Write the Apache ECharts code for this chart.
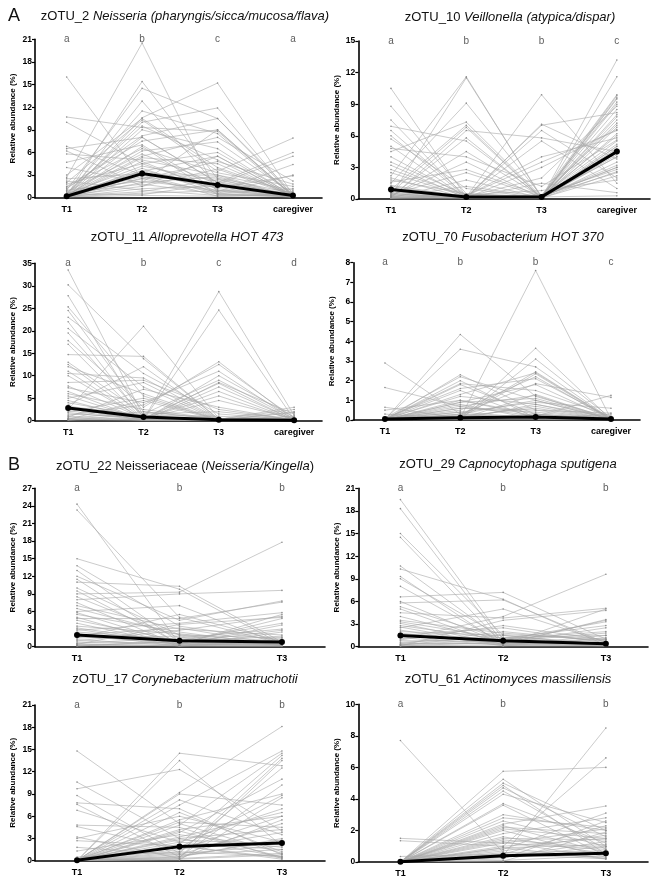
<!DOCTYPE html>
<html><head><meta charset="utf-8">
<script src="https://cdn.jsdelivr.net/npm/echarts@6/dist/echarts.min.js"></script>
<style>html,body{margin:0;padding:0;background:#fff}#c{width:653px;height:880px}</style>
</head><body><div id="c"></div>
<script>
// ---------- DATA ----------
const cats4 = ['T1','T2','T3','caregiver'];
const cats3 = ['T1','T2','T3'];

const p1Letters = ['a','b','c','a'];
const p1Median = [0.2, 3.2, 1.7, 0.3];
const p1Lines = [
[16.0,2.5,0.8,0.1],[10.7,9.3,8.8,0.3],[10.0,4.5,1.2,0.2],[6.8,3.0,0.5,0.1],[6.5,8.0,2.0,0.4],
[6.2,1.5,5.5,0.2],[5.8,5.0,3.0,1.0],[4.7,7.0,1.0,0.1],[4.0,2.0,9.0,0.3],[3.0,10.5,4.0,0.5],
[2.7,20.5,0.5,0.2],[0.3,15.4,2.5,0.1],[1.0,14.5,10.5,0.6],[0.2,12.8,1.5,0.3],[0.5,11.5,8.5,0.2],
[0.1,10.6,15.2,0.4],[2.0,10.3,3.5,7.9],[0.4,10.0,11.9,0.2],[0.6,9.5,5.0,0.1],[1.2,8.2,10.5,0.3],
[0.1,8.0,2.0,6.0],[1.5,7.5,9.0,0.2],[0.2,6.8,0.4,0.1],[0.3,6.2,7.4,0.5],[0.8,5.8,1.8,5.5],
[0.1,5.3,4.5,0.2],[0.2,4.8,0.8,4.4],[1.8,4.5,6.0,0.3],[0.5,4.2,2.2,0.1],[0.1,3.9,0.6,3.0],
[0.3,3.5,5.5,0.2],[2.5,3.2,1.3,2.9],[0.1,3.0,3.0,0.1],[0.4,2.8,0.2,0.4],[0.2,2.5,4.8,1.8],
[1.0,2.2,1.0,0.2],[0.1,2.0,2.8,0.1],[0.6,1.8,0.5,1.2],[0.3,1.5,3.8,0.3],[0.1,1.2,1.5,0.1],
[2.2,1.0,0.3,0.5],[0.2,0.8,2.4,0.2],[0.1,0.6,0.9,0.8],[0.5,0.4,1.9,0.1],[0.1,0.3,0.2,0.3],
[1.4,6.5,3.3,1.5],[0.2,9.0,6.5,0.2],[0.3,5.5,8.0,2.2],[0.1,2.6,2.6,0.6],[0.4,3.6,1.6,0.2]
];

const p2Letters = ['a','b','b','c'];
const p2Median = [0.9, 0.2, 0.2, 4.5];
const p2Lines = [
[10.5,0.2,0.1,5.0],[8.8,0.5,0.2,9.5],[7.5,0.1,0.3,6.0],[6.9,5.5,0.2,3.0],[6.5,0.3,0.1,8.0],
[6.0,0.2,6.5,2.0],[5.7,1.0,0.1,13.2],[5.0,0.1,0.4,7.0],[4.5,7.3,0.2,4.0],[4.0,0.2,0.1,9.8],
[3.5,0.4,0.3,5.5],[3.2,0.1,0.1,11.6],[2.8,0.3,3.5,6.5],[2.5,0.2,0.2,9.2],[2.2,11.6,0.1,3.5],
[2.0,0.1,0.2,8.5],[1.8,0.5,0.1,4.8],[1.5,9.1,0.3,2.5],[1.3,0.2,9.9,1.5],[1.2,0.1,0.1,7.5],
[1.0,0.3,0.2,5.2],[0.9,7.0,0.1,6.2],[0.8,0.1,7.1,3.8],[0.7,0.2,0.2,9.0],[0.6,6.8,0.1,4.2],
[0.5,0.1,0.4,2.8],[0.4,0.2,7.0,8.2],[0.3,11.5,0.2,0.3],[0.2,0.1,0.1,6.8],[0.1,6.5,5.8,4.5],
[0.3,0.2,0.2,3.2],[0.2,5.8,0.1,7.8],[0.1,0.3,4.0,5.8],[0.5,0.1,0.1,2.2],[0.2,4.5,0.2,9.6],
[0.1,0.2,5.5,1.0],[0.3,3.5,0.1,4.0],[0.1,0.1,3.0,6.6],[0.4,2.5,0.2,3.0],[0.2,0.2,2.0,8.8],
[0.1,1.8,0.1,5.0],[0.6,0.1,1.5,0.6],[0.2,1.2,0.2,7.2],[0.1,0.4,0.8,1.8],[1.6,2.8,0.3,9.9],
[4.8,4.0,1.2,5.6],[0.3,0.2,0.1,4.4],[0.1,0.1,0.1,2.6]
];

const p3Letters = ['a','b','c','d'];
const p3Median = [2.8, 0.8, 0.2, 0.1];
const p3Lines = [
[33.5,1.0,0.2,0.1],[30.2,13.8,0.3,0.2],[27.8,0.5,8.3,0.1],[25.3,5.5,0.1,0.5],[24.5,2.0,0.4,0.1],
[23.0,10.5,1.5,0.2],[22.0,0.3,0.2,1.0],[20.5,7.5,0.1,0.1],[19.5,0.8,0.5,0.3],[17.8,3.0,13.1,0.2],
[17.0,0.2,0.2,0.1],[14.7,14.3,0.3,2.5],[13.0,1.5,9.0,0.4],[12.5,0.4,0.1,0.1],[12.0,6.0,0.2,0.2],
[11.0,0.2,8.5,1.5],[10.5,9.5,0.3,0.1],[7.7,0.5,0.2,0.3],[7.3,4.0,11.0,0.1],[6.5,0.2,0.1,2.0],
[6.0,2.5,0.4,0.2],[5.5,0.3,6.5,0.1],[5.0,8.5,0.2,0.5],[4.5,0.2,0.1,0.2],[4.0,1.0,0.3,3.0],
[3.5,12.0,0.2,0.1],[3.0,0.4,4.5,0.4],[2.8,0.1,0.1,0.1],[2.5,21.0,0.5,0.2],[2.2,0.3,28.7,1.2],
[2.0,5.0,0.2,0.1],[1.8,0.2,24.6,0.3],[1.5,0.8,0.1,0.1],[1.2,3.5,12.5,0.6],[1.0,0.1,0.2,0.2],
[0.8,7.0,3.0,0.1],[0.6,0.2,10.0,0.8],[0.5,2.0,0.3,0.1],[0.4,0.1,7.5,0.2],[0.3,4.5,0.1,1.8],
[0.2,0.5,5.5,0.1],[0.1,1.5,2.0,0.3],[0.2,0.2,0.1,0.1],[8.5,9.0,2.5,0.2],[10.0,0.3,0.2,0.4],
[3.2,1.2,1.0,0.1]
];

const p4Letters = ['a','b','b','c'];
const p4Median = [0.05, 0.12, 0.15, 0.05];
const p4Lines = [
[2.9,0.3,0.1,0.05],[1.65,0.7,0.2,0.02],[0.65,0.1,0.05,0.1],[0.5,1.0,0.3,0.05],[0.3,0.05,0.8,0.02],
[0.02,4.35,1.2,0.1],[0.05,3.6,2.7,0.05],[0.01,2.3,0.5,0.02],[0.1,2.2,1.0,0.03],[0.02,2.0,0.1,0.05],
[0.05,1.85,1.5,0.2],[0.01,1.8,0.3,0.02],[0.03,1.5,0.05,0.01],[0.02,1.3,2.4,0.05],[0.05,1.2,0.8,0.1],
[0.01,1.0,0.2,0.02],[0.02,0.9,1.8,0.05],[0.01,0.8,0.05,0.3],[0.03,0.7,1.25,0.01],[0.02,0.6,0.4,0.05],
[0.01,0.5,2.2,0.02],[0.05,0.4,0.1,0.1],[0.02,0.3,1.0,0.05],[0.01,0.2,0.6,0.02],[0.03,0.15,0.2,1.25],
[0.02,0.1,7.6,0.05],[0.01,0.08,3.65,0.03],[0.05,0.05,3.1,0.1],[0.02,0.2,2.45,0.05],[0.01,0.1,2.35,0.02],
[0.02,0.3,1.85,1.15],[0.01,0.05,1.3,0.05],[0.03,0.4,0.9,0.6],[0.02,0.12,0.7,0.02],[0.01,0.6,0.5,0.35],
[0.02,0.08,0.3,0.05],[0.05,0.25,0.15,0.02],[0.01,0.02,0.05,0.01],[0.1,1.6,2.1,0.1],[0.02,0.9,1.1,0.05]
];

const p5Letters = ['a','b','b'];
const p5Median = [2.0, 1.0, 0.8];
const p5Lines = [
[24.3,0.5,0.2],[23.3,5.0,0.5],[15.0,9.8,0.4],[13.8,3.5,1.0],[13.0,0.8,0.3],[12.0,4.5,7.8],
[11.5,0.3,0.5],[11.0,10.3,0.8],[10.0,2.0,0.2],[9.5,0.5,1.5],[9.0,9.3,17.8],[8.5,1.5,0.3],
[8.0,9.0,9.6],[7.5,0.2,0.6],[7.0,3.0,2.0],[6.0,7.0,0.4],[5.8,0.4,5.5],[5.5,2.5,0.2],
[5.0,0.1,1.0],[4.8,4.8,7.6],[4.5,1.0,0.3],[4.0,0.3,3.7],[3.5,2.2,0.5],[3.0,0.2,0.1],
[2.8,4.0,5.8],[2.5,1.2,0.8],[2.2,0.1,2.5],[2.0,3.2,0.3],[1.8,0.5,4.8],[1.5,1.8,0.2],
[1.2,0.2,1.2],[1.0,2.8,5.2],[0.8,0.6,0.4],[0.6,1.5,3.0],[0.5,0.1,0.1],[0.4,3.8,5.0],
[0.3,0.8,1.8],[0.2,0.3,0.6],[0.1,1.0,4.0],[0.3,0.2,0.2],[6.5,2.0,1.5],[3.2,0.7,2.8],[1.5,5.5,0.9]
];

const p6Letters = ['a','b','b'];
const p6Median = [1.5, 0.8, 0.4];
const p6Lines = [
[19.5,1.0,0.3],[18.3,0.5,0.5],[15.0,1.5,0.2],[14.5,0.3,1.0],[10.7,0.8,0.4],[10.3,6.3,0.2],
[9.3,0.2,0.6],[9.0,1.2,1.5],[8.0,0.5,0.1],[6.6,7.2,1.0],[6.0,0.4,0.3],[5.8,6.2,0.5],
[5.3,1.0,2.0],[5.0,0.2,0.2],[4.5,3.8,5.1],[4.0,0.6,0.4],[3.5,1.8,0.8],[3.1,0.3,3.6],
[2.8,0.9,0.2],[2.5,5.0,0.6],[2.2,0.1,1.2],[2.0,1.5,0.3],[1.8,0.4,3.5],[1.5,2.5,0.5],
[1.2,0.2,0.2],[1.0,4.0,9.6],[0.8,0.7,1.8],[0.6,1.2,0.4],[0.5,0.3,5.0],[0.4,2.0,0.7],
[0.3,0.5,2.5],[0.2,0.1,0.1],[0.1,3.5,4.8],[0.3,0.9,3.3],[0.2,1.6,1.0],[0.1,0.6,0.3],
[3.3,1.1,2.8],[2.6,0.2,1.5],[0.9,2.8,0.9]
];

const p7Letters = ['a','b','b'];
const p7Median = [0.05, 1.9, 2.4];
const p7Lines = [
[14.8,5.0,1.0],[10.6,3.0,0.5],[9.7,12.3,4.0],[8.8,1.0,2.0],[7.8,7.0,0.8],[7.6,0.5,3.0],
[6.8,2.5,1.5],[4.8,4.5,0.3],[4.6,1.5,6.0],[3.2,0.3,1.0],[3.0,6.0,2.5],[2.7,2.0,0.4],
[1.8,0.8,5.0],[1.3,3.5,1.8],[0.5,1.2,0.6],[0.0,14.5,12.8],[0.0,13.5,2.0],[0.0,9.2,18.1],
[0.0,9.0,7.5],[0.1,8.2,3.5],[0.0,7.5,14.8],[0.0,6.5,1.2],[0.0,5.5,9.0],[0.1,5.2,4.5],
[0.0,4.8,14.5],[0.0,4.0,0.5],[0.0,3.8,11.0],[0.0,3.2,6.5],[0.1,2.8,2.2],[0.0,2.2,14.2],
[0.0,1.8,8.8],[0.0,1.5,3.8],[0.0,1.0,13.8],[0.0,0.8,1.5],[0.0,0.5,10.2],[0.0,0.3,5.5],
[0.0,0.2,0.8],[0.0,0.1,8.5],[0.0,0.4,13.5],[0.0,2.5,7.0],[0.0,1.2,12.5],[0.0,3.0,4.2],
[0.0,0.6,2.8],[0.0,4.2,6.0],[0.0,2.0,0.2]
];

const p8Letters = ['a','b','b'];
const p8Median = [0.02, 0.4, 0.55];
const p8Lines = [
[7.7,0.6,0.3],[1.5,1.2,0.8],[1.35,1.0,1.5],[0.35,0.5,0.2],[0.0,5.75,6.0],[0.0,5.25,1.0],
[0.0,5.0,2.0],[0.0,4.85,0.5],[0.0,4.7,1.6],[0.0,4.5,0.8],[0.0,4.3,2.5],[0.0,3.7,1.2],
[0.0,3.6,0.4],[0.0,2.8,2.2],[0.0,2.6,1.0],[0.0,2.4,3.55],[0.0,2.3,0.6],[0.0,2.2,1.8],
[0.0,2.0,0.3],[0.0,1.8,2.8],[0.0,1.5,1.4],[0.0,1.3,0.2],[0.0,1.2,2.1],[0.0,1.0,6.6],
[0.0,0.9,1.1],[0.0,0.8,3.1],[0.0,0.6,0.7],[0.0,0.5,2.3],[0.0,0.4,8.5],[0.0,0.3,1.3],
[0.0,0.2,2.6],[0.0,0.1,0.4],[0.0,0.05,1.9],[0.0,1.4,0.9],[0.0,0.7,1.7],[0.0,3.0,2.0],
[0.0,1.6,0.5],[0.0,0.3,1.0],[0.0,2.1,1.5],[0.0,0.9,0.2]
];

const titleParts = [
  [['n','zOTU_2 '],['i','Neisseria (pharyngis/sicca/mucosa/flava)']],
  [['n','zOTU_10 '],['i','Veillonella (atypica/dispar)']],
  [['n','zOTU_11 '],['i','Alloprevotella HOT 473']],
  [['n','zOTU_70 '],['i','Fusobacterium HOT 370']],
  [['n','zOTU_22 Neisseriaceae ('],['i','Neisseria/Kingella'],['n',')']],
  [['n','zOTU_29 '],['i','Capnocytophaga sputigena']],
  [['n','zOTU_17 '],['i','Corynebacterium matruchotii']],
  [['n','zOTU_61 '],['i','Actinomyces massiliensis']]
];
const yMax = [21, 15, 35, 8, 27, 21, 21, 10];
const yStep = [3, 3, 5, 1, 3, 3, 3, 2];
const yAxisName = 'Relative abundance (%)';

// ---------- LAYOUT (styles) ----------
const panels = [
  {lines:p1Lines, med:p1Median, let:p1Letters, cats:cats4, L:35,  T:39.3, R:322, B:197.7, xmin:-0.42, xmax:3.385, tx:180, ty:5},
  {lines:p2Lines, med:p2Median, let:p2Letters, cats:cats4, L:358.3,T:41,  R:650, B:199,   xmin:-0.434,xmax:3.44, tx:505, ty:6},
  {lines:p3Lines, med:p3Median, let:p3Letters, cats:cats4, L:35,  T:263.3,R:322, B:420.7, xmin:-0.44, xmax:3.37, tx:182, ty:226},
  {lines:p4Lines, med:p4Median, let:p4Letters, cats:cats4, L:353.3,T:262.7,R:640,B:420,   xmin:-0.42, xmax:3.385,tx:498, ty:226},
  {lines:p5Lines, med:p5Median, let:p5Letters, cats:cats3, L:35,  T:488.3,R:325, B:646.7, xmin:-0.41, xmax:2.42, tx:180, ty:455},
  {lines:p6Lines, med:p6Median, let:p6Letters, cats:cats3, L:358.3,T:488.3,R:648,B:646.7, xmin:-0.41, xmax:2.41, tx:503, ty:453},
  {lines:p7Lines, med:p7Median, let:p7Letters, cats:cats3, L:35,  T:705,  R:325, B:860.7, xmin:-0.41, xmax:2.42, tx:180, ty:668},
  {lines:p8Lines, med:p8Median, let:p8Letters, cats:cats3, L:358.3,T:704.3,R:648,B:862,   xmin:-0.41, xmax:2.41, tx:503, ty:668}
];

const FONT = 'Liberation Sans, Arial, Helvetica, sans-serif';
const grid = [], xAxis = [], yAxis = [], series = [], title = [];

panels.forEach((p, k) => {
  grid.push({left:p.L, top:p.T, width:p.R-p.L, height:p.B-p.T, containLabel:false});
  const idx = p.cats.map((c,i)=>i);
  xAxis.push({
    gridIndex:k, type:'value', min:p.xmin, max:p.xmax,
    axisLine:{show:true, onZero:false, lineStyle:{color:'#000', width:1.6}},
    axisTick:{show:false},
    splitLine:{show:false},
    axisLabel:{customValues:idx, formatter:(v)=>p.cats[Math.round(v)], color:'#000', fontWeight:'bold', fontSize:9, fontFamily:FONT, margin:7}
  });
  yAxis.push({
    gridIndex:k, type:'value', min:0, max:yMax[k], interval:yStep[k],
    name:yAxisName, nameLocation:'middle', nameGap:18,
    nameTextStyle:{color:'#000', fontWeight:'bold', fontSize:8, fontFamily:FONT},
    axisLine:{show:true, onZero:false, lineStyle:{color:'#000', width:1.6}},
    axisTick:{show:true, length:3, lineStyle:{color:'#000', width:1.2}},
    splitLine:{show:false},
    axisLabel:{color:'#000', fontWeight:'bold', fontSize:8.5, fontFamily:FONT, margin:3}
  });
  p.lines.forEach(l => {
    series.push({
      type:'line', xAxisIndex:k, yAxisIndex:k, silent:true, animation:false,
      data:l.map((v,i)=>[i,v]),
      symbol:'circle', symbolSize:1.6, showSymbol:true,
      itemStyle:{color:'#8c8c8c'},
      lineStyle:{color:'#a8a8a8', width:0.6},
      z:2
    });
  });
  series.push({
    type:'line', xAxisIndex:k, yAxisIndex:k, silent:true, animation:false,
    data:p.med.map((v,i)=>[i,v]),
    symbol:'circle', symbolSize:6,
    itemStyle:{color:'#000'}, lineStyle:{color:'#000', width:3}, z:5
  });
  series.push({
    type:'scatter', xAxisIndex:k, yAxisIndex:k, silent:true, animation:false,
    data:p.let.map((s,i)=>({value:[i,yMax[k]], name:s})),
    symbolSize:0,
    label:{show:true, position:'inside', formatter:(d)=>d.name, color:'#333', fontSize:10, fontFamily:FONT},
    z:6
  });
  const parts = titleParts[k];
  title.push({
    left:p.tx, top:p.ty, textAlign:'center',
    text: parts.map(([s,t])=>'{'+s+'|'+t+'}').join(''),
    textStyle:{fontWeight:'normal', rich:{
      n:{fontSize:13, fontWeight:'normal', fontFamily:FONT, color:'#111'},
      i:{fontSize:13, fontWeight:'normal', fontFamily:FONT, fontStyle:'italic', color:'#111'}
    }}
  });
});
title.push({left:3, top:2, text:'A', textStyle:{fontSize:18, fontWeight:'normal', fontFamily:FONT, color:'#111'}});
title.push({left:3, top:451, text:'B', textStyle:{fontSize:18, fontWeight:'normal', fontFamily:FONT, color:'#111'}});

const chart = echarts.init(document.getElementById('c'), null, {renderer:'canvas'});
chart.setOption({animation:false, backgroundColor:'#fff', title, grid, xAxis, yAxis, series});
</script></body></html>
